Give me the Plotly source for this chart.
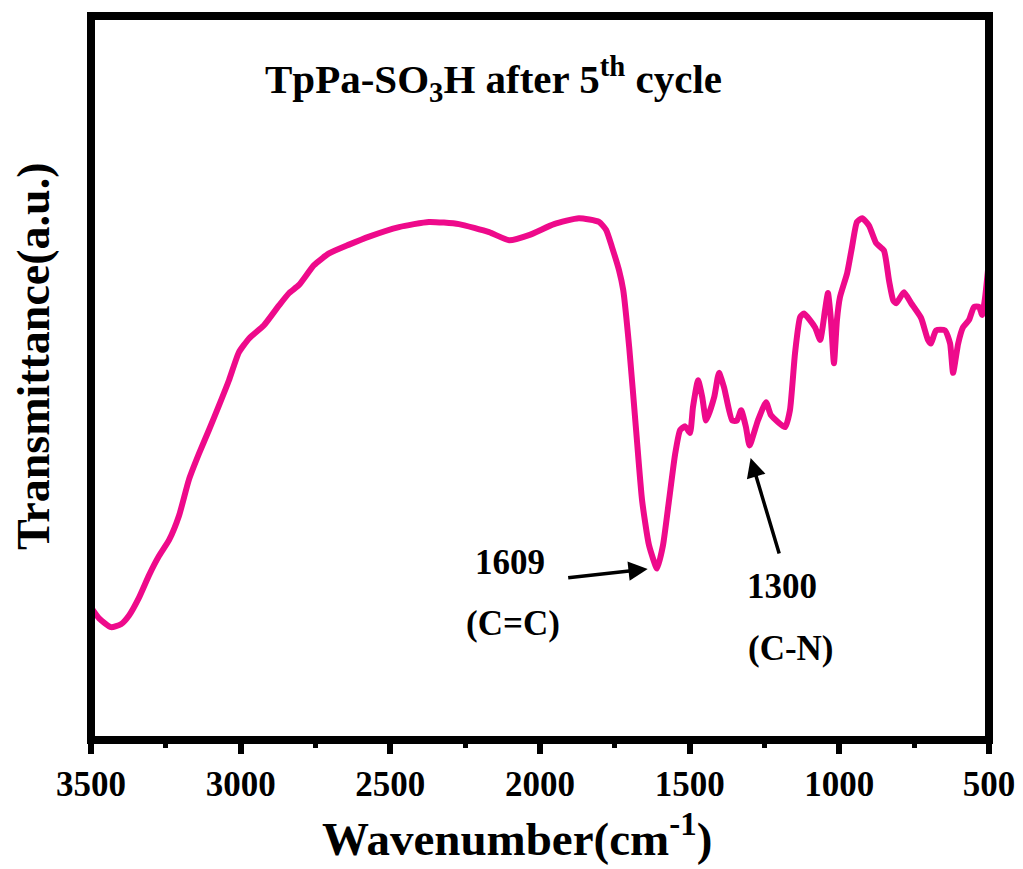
import plotly.graph_objects as go

# Wavenumber (cm^-1) and transmittance (a.u.)
wavenumber = [3500, 3473, 3433, 3400, 3373, 3340, 3306, 3273, 3239, 3206, 3173, 3139, 3106, 3072,
              3039, 3006, 2972, 2922, 2872, 2838, 2805, 2755, 2705, 2638, 2571, 2471, 2371, 2271,
              2170, 2103, 2037, 1953, 1870, 1803, 1779, 1759, 1736, 1722, 1702, 1679, 1659, 1636,
              1609, 1589, 1569, 1549, 1532, 1515, 1499, 1489, 1472, 1458, 1445, 1418, 1402, 1385,
              1358, 1342, 1328, 1312, 1300, 1272, 1245, 1228, 1181, 1165, 1148, 1131, 1118, 1081,
              1064, 1048, 1038, 1028, 1018, 1008, 998, 974, 958, 941, 924, 901, 877, 851, 834, 820,
              810, 784, 760, 727, 704, 694, 677, 647, 630, 620, 603, 587, 567, 550, 533, 523, 513, 500]
transmittance = [18.8, 17.3, 16.1, 16.5, 17.7, 20.1, 23.2, 25.8, 28.0, 31.3, 36.2, 39.8, 43.0, 46.4,
                 49.8, 53.6, 55.5, 57.3, 60.0, 61.7, 62.8, 65.5, 67.1, 68.3, 69.4, 70.7, 71.4, 71.1,
                 70.0, 68.9, 69.6, 71.1, 71.9, 71.4, 70.3, 67.9, 64.8, 62.1, 54.3, 43.0, 33.4, 27.3,
                 24.1, 27.3, 33.4, 39.6, 43.0, 43.5, 42.6, 46.1, 49.8, 47.5, 44.3, 47.5, 50.8, 48.8,
                 44.3, 44.3, 45.7, 43.4, 40.9, 44.3, 46.8, 45.0, 43.4, 45.7, 53.5, 58.4, 58.9, 57.0,
                 55.3, 59.3, 61.7, 58.0, 52.1, 58.0, 61.1, 64.4, 67.9, 71.4, 71.9, 70.9, 68.5, 67.5,
                 63.4, 60.7, 60.3, 61.8, 60.3, 58.3, 55.3, 54.8, 56.6, 56.6, 54.8, 50.8, 54.8, 57.0,
                 58.0, 59.8, 59.8, 58.7, 61.1, 66.2]

x_ticks = [3500, 3000, 2500, 2000, 1500, 1000, 500]
x_minor = [3250, 2750, 2250, 1750, 1250, 750]

FONT = "Liberation Serif, Times New Roman, serif"
PINK = "#EE0A8B"

# page offset from default body margin
OFF = 8
W, H = 1023 - OFF, 869 - OFF
# plot area in page pixels
L, R, T, B = 91, 989.5, 16, 740


def px(xp):
    return (xp - L) / (R - L)


def py(yp):
    return (B - yp) / (B - T)


fig = go.Figure()
fig.add_trace(go.Scatter(x=wavenumber, y=transmittance, mode="lines",
                         line=dict(color=PINK, width=6, shape="spline", smoothing=0.5),
                         showlegend=False))

annotations = [
    dict(text="<b>TpPa-SO<sub>3</sub>H after 5<sup>th</sup> cycle</b>", x=px(494), y=py(79),
         font=dict(size=41, color="black", family=FONT)),
    dict(text="<b>Transmittance(a.u.)</b>", x=px(33), y=py(356), textangle=-90,
         font=dict(size=46, color="black", family=FONT)),
    dict(text="<b>Wavenumber(cm<sup>-1</sup>)</b>", x=px(517), y=py(835),
         font=dict(size=47, color="black", family=FONT)),
    dict(text="<b>1609</b>", x=px(510), y=py(562), font=dict(size=35, color="black", family=FONT)),
    dict(text="<b>(C=C)</b>", x=px(513), y=py(623), font=dict(size=35, color="black", family=FONT)),
    dict(text="<b>1300</b>", x=px(782), y=py(586), font=dict(size=35, color="black", family=FONT)),
    dict(text="<b>(C-N)</b>", x=px(791), y=py(648), font=dict(size=35, color="black", family=FONT)),
]
for a in annotations:
    a.update(xref="paper", yref="paper", showarrow=False, xanchor="center", yanchor="middle")

arrows = [
    dict(x=px(648), y=py(569), ax=567 - 648, ay=578 - 569),
    dict(x=px(751), y=py(458), ax=780 - 751, ay=555 - 458),
]
for a in arrows:
    a.update(xref="paper", yref="paper", text="", showarrow=True, arrowhead=2, arrowsize=1.1,
             arrowwidth=3.5, arrowcolor="black")
    annotations.append(a)

fig.update_layout(
    width=W, height=H,
    margin=dict(l=L - OFF, r=W - (R - OFF), t=T - OFF, b=H - (B - OFF), pad=0, autoexpand=False),
    paper_bgcolor="white", plot_bgcolor="white",
    font=dict(family=FONT, color="black"),
    annotations=annotations,
    shapes=[dict(type="rect", xref="paper", yref="paper", x0=0, x1=1, y0=0, y1=1,
                 line=dict(color="black", width=8), layer="above")],
    xaxis=dict(range=[3500, 500], tickmode="array", tickvals=x_ticks,
               ticktext=["<b>%d</b>" % v for v in x_ticks],
               ticks="outside", ticklen=13, tickwidth=6, tickcolor="black",
               minor=dict(tickvals=x_minor, ticks="outside",
                          ticklen=7, tickwidth=5, tickcolor="black"),
               tickfont=dict(size=35, color="black", family=FONT, weight="bold"),
               showgrid=False, zeroline=False, showline=False, automargin=False),
    yaxis=dict(range=[0.7, 99.5], showticklabels=False, ticks="", showgrid=False,
               zeroline=False, showline=False, automargin=False),
)

fig.write_html("out.html")
